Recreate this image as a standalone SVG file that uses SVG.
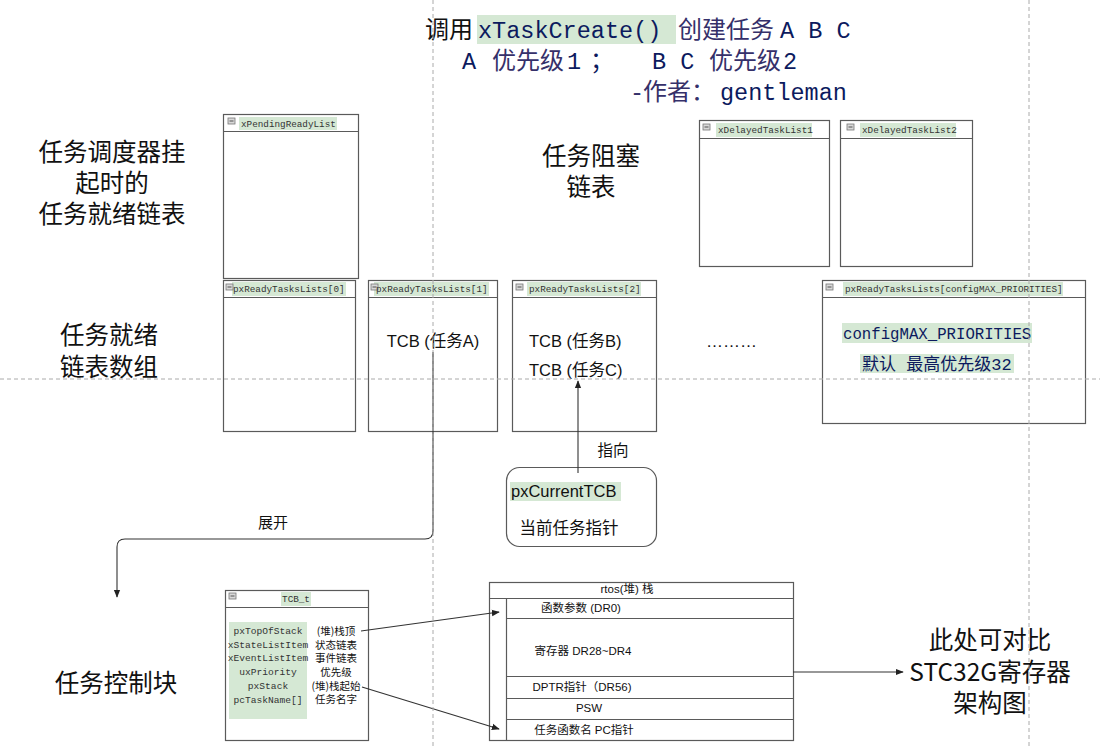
<svg xmlns="http://www.w3.org/2000/svg" width="1100" height="749" viewBox="0 0 1100 749">
<defs>
<style>
.box{fill:none;stroke:#5a5a5a;stroke-width:1.2}
.hl{fill:#d5e8d4}
.hdr{font-family:"Liberation Mono","DejaVu Sans Mono",monospace;font-size:9.3px;fill:#333}
.mono{font-family:"Liberation Mono","DejaVu Sans Mono","Noto Sans CJK SC",monospace}
.cjk{font-family:"Noto Sans CJK SC","Liberation Sans",sans-serif}
.sans{font-family:"Liberation Sans","Noto Sans CJK SC",sans-serif}
.big{font-family:"Noto Sans CJK SC","Liberation Sans",sans-serif;font-size:24.5px;fill:#111;text-anchor:middle}
.navy{fill:#0c1a5e}
.navy2{fill:#35306a}
.guide{stroke:#aaa;stroke-width:1;stroke-dasharray:4 3;fill:none}
.conn{stroke:#333;stroke-width:1.1;fill:none}
.fld{font-family:"Liberation Mono","DejaVu Sans Mono",monospace;font-size:9.6px;fill:#333;text-anchor:middle}
.fcn{font-family:"Noto Sans CJK SC","Liberation Sans",sans-serif;font-size:10.5px;fill:#111;text-anchor:middle}
.stk{font-family:"Liberation Sans","Noto Sans CJK SC",sans-serif;font-size:11.5px;fill:#111;text-anchor:middle}
</style>
<g id="minus"><rect x="0" y="0" width="7" height="6" fill="#d8d8d8" stroke="#777" stroke-width="0.8"/><line x1="1.5" y1="3" x2="5.5" y2="3" stroke="#444" stroke-width="0.9"/></g>
<marker id="arr" viewBox="0 0 10 10" refX="9" refY="5" markerWidth="8" markerHeight="8" orient="auto" markerUnits="userSpaceOnUse"><path d="M0,1 L10,5 L0,9 Z" fill="#222"/></marker>
</defs>
<rect width="1100" height="749" fill="#fff"/>

<g id="title">
<rect class="hl" x="477" y="15" width="199" height="29"/>
<text y="38" font-size="24"><tspan x="425" class="cjk" fill="#111">调用</tspan><tspan x="478" class="mono navy" font-size="23.5">xTaskCreate()</tspan><tspan x="678" class="cjk navy2">创建任务</tspan><tspan x="780" class="mono navy" font-size="23.5">A B C</tspan></text>
<text y="69" font-size="24"><tspan x="462" class="mono navy" font-size="23.5">A</tspan><tspan x="492" class="cjk navy2">优先级</tspan><tspan x="567" class="mono navy" font-size="23.5">1</tspan><tspan x="590" class="cjk navy">；</tspan><tspan x="652" class="mono navy" font-size="23.5">B C</tspan><tspan x="709" class="cjk navy2">优先级</tspan><tspan x="783" class="mono navy" font-size="23.5">2</tspan></text>
<text y="100" font-size="24"><tspan x="630" class="mono navy2" font-size="23.5">-</tspan><tspan x="643" class="cjk navy2">作者：</tspan><tspan x="720" class="mono navy" font-size="23.5">gentleman</tspan></text>
</g>

<g id="labels">
<text class="big" x="112" y="161">任务调度器挂</text>
<text class="big" x="112" y="192">起时的</text>
<text class="big" x="112" y="223">任务就绪链表</text>
<text class="big" x="591" y="165">任务阻塞</text>
<text class="big" x="591" y="196">链表</text>
<text class="big" x="109" y="344">任务就绪</text>
<text class="big" x="109" y="376">链表数组</text>
<text class="big" x="116" y="692">任务控制块</text>
<text class="big" x="990" y="649">此处可对比</text>
<text class="big sans" x="990" y="681">STC32G寄存器</text>
<text class="big" x="990" y="712">架构图</text>
</g>

<g id="xPendingReadyList">
<rect class="box" x="223.5" y="114.5" width="135" height="164"/>
<line class="box" x1="223.5" y1="131.5" x2="358.5" y2="131.5"/>
<rect class="hl" x="239" y="117" width="98" height="13"/>
<use href="#minus" x="228" y="118"/>
<text class="hdr" x="241" y="126.5">xPendingReadyList</text>
</g>

<g id="xDelayedTaskList1">
<rect class="box" x="699.5" y="120.5" width="130" height="146"/>
<line class="box" x1="699.5" y1="138.5" x2="829.5" y2="138.5"/>
<rect class="hl" x="716" y="123" width="96" height="14"/>
<use href="#minus" x="703" y="124"/>
<text class="hdr" x="718" y="133">xDelayedTaskList1</text>
</g>

<g id="xDelayedTaskList2">
<rect class="box" x="840.5" y="120.5" width="132" height="146"/>
<line class="box" x1="840.5" y1="138.5" x2="972.5" y2="138.5"/>
<rect class="hl" x="860" y="123" width="96" height="14"/>
<use href="#minus" x="847" y="124"/>
<text class="hdr" x="862" y="133">xDelayedTaskList2</text>
</g>

<g id="pxReadyTasksLists0">
<rect class="box" x="223.5" y="280.5" width="132" height="151"/>
<line class="box" x1="223.5" y1="297.5" x2="355.5" y2="297.5"/>
<rect class="hl" x="232" y="282" width="114" height="14"/>
<use href="#minus" x="226" y="284"/>
<text class="hdr" x="233" y="292">pxReadyTasksLists[0]</text>
</g>

<g id="pxReadyTasksLists1">
<rect class="box" x="368.5" y="280.5" width="129" height="151"/>
<line class="box" x1="368.5" y1="297.5" x2="497.5" y2="297.5"/>
<rect class="hl" x="374" y="282" width="115" height="14"/>
<use href="#minus" x="371" y="284"/>
<text class="hdr" x="376" y="292">pxReadyTasksLists[1]</text>
<text class="sans" x="433" y="347" font-size="16.5" text-anchor="middle" fill="#111">TCB (任务A)</text>
</g>

<g id="pxReadyTasksLists2">
<rect class="box" x="512.5" y="280.5" width="144" height="151"/>
<line class="box" x1="512.5" y1="297.5" x2="656.5" y2="297.5"/>
<rect class="hl" x="527" y="282" width="114" height="14"/>
<use href="#minus" x="516" y="284"/>
<text class="hdr" x="529" y="292">pxReadyTasksLists[2]</text>
<text class="sans" x="529" y="347" font-size="16.5" fill="#111">TCB (任务B)</text>
<text class="sans" x="529" y="376" font-size="16.5" fill="#111">TCB (任务C)</text>
</g>

<g id="ellipsis">
<text class="sans" x="706" y="347" font-size="17" fill="#111">………</text>
</g>

<g id="pxReadyTasksListsMax">
<rect class="box" x="822.5" y="280.5" width="263" height="143"/>
<line class="box" x1="822.5" y1="297.5" x2="1085.5" y2="297.5"/>
<rect class="hl" x="843" y="282" width="220" height="14"/>
<use href="#minus" x="826" y="284"/>
<text class="hdr" x="845" y="292">pxReadyTasksLists[configMAX_PRIORITIES]</text>
<rect class="hl" x="842" y="323" width="190" height="20"/>
<text class="mono navy" x="843" y="338.5" font-size="15.7">configMAX_PRIORITIES</text>
<rect class="hl" x="860" y="354" width="154" height="19"/>
<text class="mono navy" x="862" y="369.5" font-size="17">默认 最高优先级32</text>
</g>

<g id="pxCurrentTCB">
<rect class="box" x="506.5" y="467.5" width="150" height="79" rx="13"/>
<rect class="hl" x="510" y="482" width="111" height="19"/>
<text class="sans" x="511" y="497" font-size="16.5" fill="#111">pxCurrentTCB</text>
<text class="cjk" x="569" y="534" font-size="16.5" fill="#111" text-anchor="middle">当前任务指针</text>
</g>

<g id="TCB_t">
<rect class="box" x="225.5" y="590.5" width="143" height="150"/>
<line class="box" x1="225.5" y1="607.5" x2="368.5" y2="607.5"/>
<use href="#minus" x="229" y="593"/>
<rect class="hl" x="281" y="592" width="30" height="14"/>
<text class="hdr" x="296" y="602" text-anchor="middle">TCB_t</text>
<rect class="hl" x="229" y="622" width="78" height="97"/>
<text class="fld" x="268" y="634">pxTopOfStack</text>
<text class="fld" x="268" y="648">xStateListItem</text>
<text class="fld" x="268" y="661">xEventListItem</text>
<text class="fld" x="268" y="675">uxPriority</text>
<text class="fld" x="268" y="689">pxStack</text>
<text class="fld" x="268" y="703">pcTaskName[]</text>
<text class="fcn" x="336" y="635">(堆)栈顶</text>
<text class="fcn" x="336" y="649">状态链表</text>
<text class="fcn" x="336" y="662">事件链表</text>
<text class="fcn" x="336" y="676">优先级</text>
<text class="fcn" x="336" y="690">(堆)栈起始</text>
<text class="fcn" x="336" y="703">任务名字</text>
</g>

<g id="stack">
<rect class="box" x="489.5" y="582.5" width="304" height="158"/>
<line class="box" x1="489.5" y1="598.5" x2="793.5" y2="598.5"/>
<line class="box" x1="506.5" y1="598.5" x2="506.5" y2="740.5"/>
<line class="box" x1="506.5" y1="618.5" x2="793.5" y2="618.5"/>
<line class="box" x1="506.5" y1="676.5" x2="793.5" y2="676.5"/>
<line class="box" x1="506.5" y1="698.5" x2="793.5" y2="698.5"/>
<line class="box" x1="506.5" y1="719.5" x2="793.5" y2="719.5"/>
<text class="stk" x="627" y="593">rtos(堆)  栈</text>
<text class="stk" x="581" y="612">函数参数 (DR0)</text>
<text class="stk" x="583" y="655">寄存器 DR28~DR4</text>
<text class="stk" x="582" y="691">DPTR指针（DR56)</text>
<text class="stk" x="589" y="712">PSW</text>
<text class="stk" x="584" y="734">任务函数名  PC指针</text>
</g>

<g id="connectors">
<path class="conn" d="M433,352 V531 Q433,539 425,539 H125 Q117,539 117,547 V597" marker-end="url(#arr)"/>
<text class="cjk" x="273" y="528" font-size="15" fill="#111" text-anchor="middle">展开</text>
<line class="conn" x1="578" y1="473" x2="578" y2="381" marker-end="url(#arr)"/>
<text class="cjk" x="613" y="456" font-size="15.5" fill="#111" text-anchor="middle">指向</text>
<line class="conn" x1="361" y1="631" x2="499" y2="612" marker-end="url(#arr)"/>
<line class="conn" x1="362" y1="687" x2="499" y2="729" marker-end="url(#arr)"/>
<line class="conn" x1="793" y1="672" x2="903" y2="672" marker-end="url(#arr)"/>
</g>

<g id="guides">
<line class="guide" x1="433" y1="0" x2="433" y2="749"/>
<line class="guide" x1="1029" y1="0" x2="1029" y2="749"/>
<line class="guide" x1="0" y1="379" x2="1100" y2="379"/>
</g>
</svg>
